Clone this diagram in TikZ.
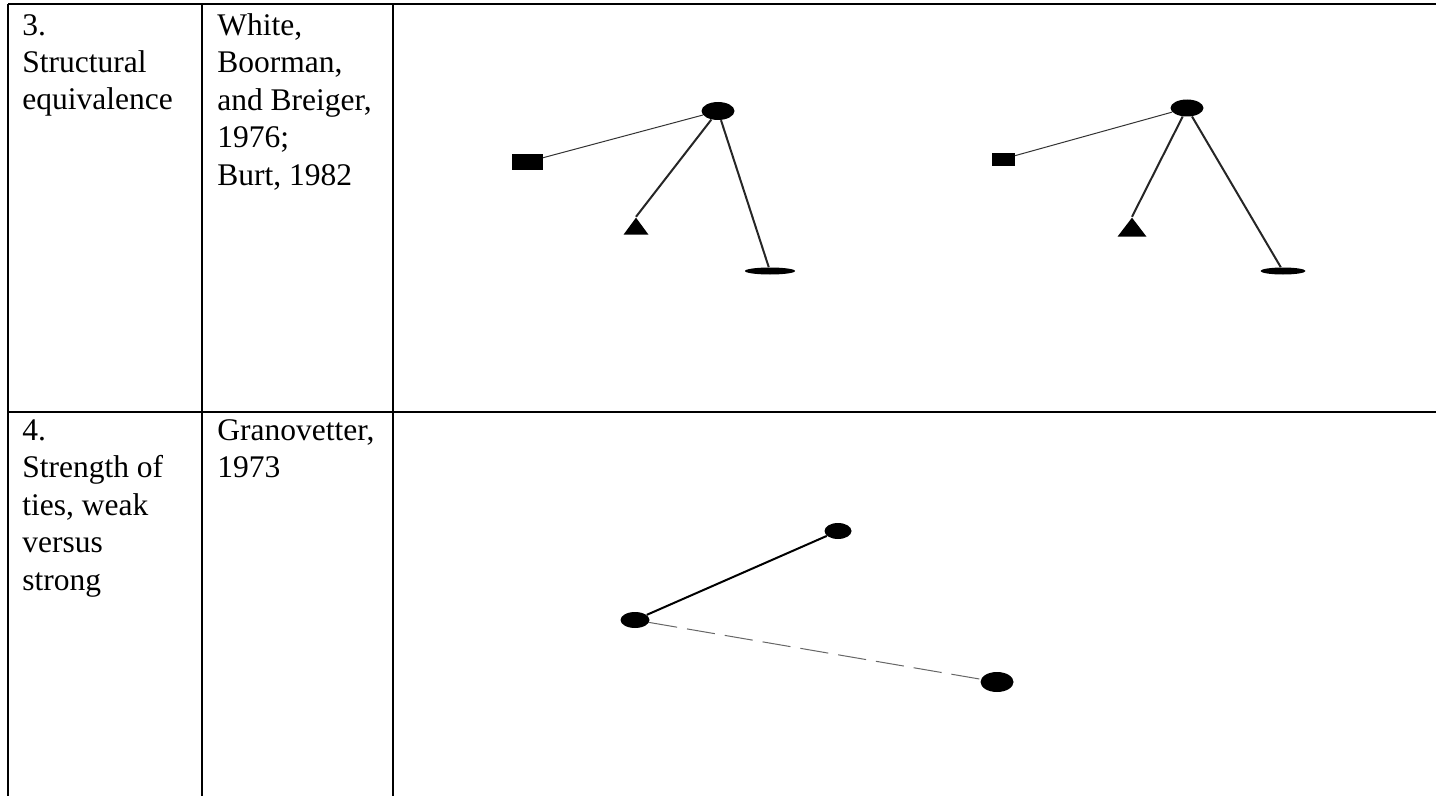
\documentclass[tikz,border=0pt]{standalone}
\usepackage{fontspec}
\setmainfont{Liberation Serif}
\usetikzlibrary{shapes.geometric}
\begin{document}
\begin{tikzpicture}[x=0.6pt,y=-0.6pt,
  rule/.style={line width=1.2pt,black},
  cell/.style={anchor=base west,inner sep=0pt,align=left,font=\fontsize{18.9pt}{22.5pt}\selectfont},
  blob/.style={ellipse,fill=black,draw=none,inner sep=0pt},
  box/.style={rectangle,fill=black,draw=none,inner sep=0pt},
  tri/.style={isosceles triangle,shape border rotate=90,isosceles triangle stretches=true,fill=black,draw=none,inner sep=0pt},
  thin/.style={line width=0.6pt,black!80},
  thick/.style={line width=1.2pt,black!85},
  weak/.style={line width=0.6pt,black!60,dash pattern=on 17pt off 6pt}]
\useasboundingbox (0,0) rectangle (1436,796);
% table rules
\coordinate (tl) at (8,4);
\coordinate (tr) at (1436,4);
\coordinate (ml) at (8,412);
\coordinate (mr) at (1436,412);
\coordinate (c1t) at (202,4);
\coordinate (c1b) at (202,796);
\coordinate (c2t) at (393,4);
\coordinate (c2b) at (393,796);
\coordinate (bl) at (8,796);
\draw[rule] (tl) -- (tr);
\draw[rule] (ml) -- (mr);
\draw[rule] (tl) -- (bl);
\draw[rule] (c1t) -- (c1b);
\draw[rule] (c2t) -- (c2b);
% texts (anchored at the baseline of their last line)
\node[cell] (t3a) at (22,110) {3.\\Structural\\equivalence};
\node[cell] (t3b) at (217,185) {White,\\Boorman,\\and Breiger,\\1976;\\Burt, 1982};
\node[cell] (t4a) at (22,590) {4.\\Strength of\\ties, weak\\versus\\strong};
\node[cell] (t4b) at (217,477.5) {Granovetter,\\1973};
% row 3 left graph
\node[blob,minimum width=19.8pt,minimum height=10.8pt] (e1) at (718,111) {};
\node[box,minimum width=18.6pt,minimum height=9.6pt] (r1) at (527,162) {};
\node[tri,minimum width=15pt,minimum height=10.2pt,anchor=south] (tr1) at (636,235) {};
\node[blob,minimum width=30pt,minimum height=4.2pt] (b1) at (770,271) {};
\draw[thin] (e1) -- (r1);
\draw[thick] (e1) -- (tr1.apex);
\draw[thick] (e1) -- (b1);
% row 3 right graph
\node[blob,minimum width=19.8pt,minimum height=10.2pt] (e2) at (1187,108) {};
\node[box,minimum width=13.8pt,minimum height=7.8pt] (r2) at (1003,159) {};
\node[tri,minimum width=17.4pt,minimum height=11.4pt,anchor=south] (tr2) at (1132,237) {};
\node[blob,minimum width=27pt,minimum height=4.2pt] (b2) at (1283,271) {};
\draw[thin] (e2) -- (r2);
\draw[thick] (e2) -- (tr2.apex);
\draw[thick] (e2) -- (b2);
% row 4 graph
\node[blob,minimum width=16.2pt,minimum height=9.6pt] (a) at (838,531) {};
\node[blob,minimum width=17.4pt,minimum height=9.6pt] (c) at (635,620) {};
\node[blob,minimum width=19.8pt,minimum height=12pt] (d) at (997,682) {};
\draw[thick,black] (c) -- (a);
\draw[weak] (c) -- (d);
\end{tikzpicture}
\end{document}
